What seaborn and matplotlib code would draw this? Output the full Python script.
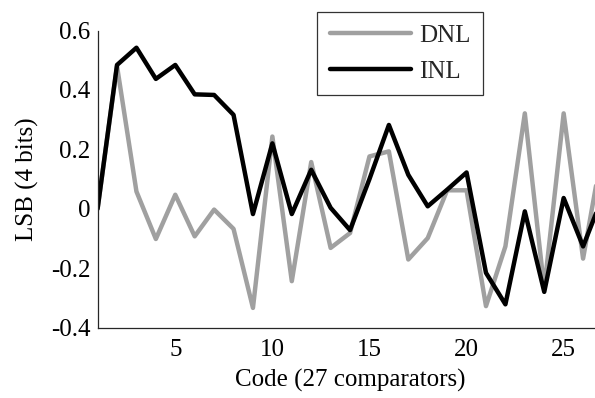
import numpy as np
import pandas as pd
import matplotlib
matplotlib.use("Agg")
import matplotlib.pyplot as plt
import seaborn as sns

codes = list(range(1, 28))
dnl = [0.0, 0.48, 0.058, -0.102, 0.047, -0.093, -0.003, -0.068, -0.334, 0.243,
       -0.244, 0.157, -0.132, -0.082, 0.176, 0.193, -0.171, -0.099, 0.062, 0.062,
       -0.328, -0.127, 0.321, -0.27, 0.321, -0.168, 0.2]
inl = [0.0, 0.484, 0.542, 0.437, 0.484, 0.385, 0.383, 0.316, -0.018, 0.22,
       -0.018, 0.131, 0.003, -0.072, 0.1, 0.282, 0.114, 0.008, 0.064, 0.122,
       -0.216, -0.322, -0.009, -0.28, 0.036, -0.127, 0.04]
series_names = ["DNL", "INL"]
x_ticks = [5, 10, 15, 20, 25]
y_ticks = [-0.4, -0.2, 0, 0.2, 0.4, 0.6]
y_tick_labels = ["-0.4", "-0.2", "0", "0.2", "0.4", "0.6"]

df = pd.DataFrame({
    "Code": codes * 2,
    "LSB": dnl + inl,
    "Series": [series_names[0]] * len(codes) + [series_names[1]] * len(codes),
})

sns.set_theme(style="white")
plt.rcParams["font.family"] = ["Liberation Serif", "DejaVu Serif"]

fig = plt.figure(figsize=(5.95, 3.98), dpi=100)
W, H = 595, 398
left_px, right_px, top_px, bot_px = 97.6, 602.5, 30.5, 327.5
ax = fig.add_axes([left_px / W, 1 - bot_px / H, (right_px - left_px) / W, (bot_px - top_px) / H])

sns.lineplot(data=df, x="Code", y="LSB", hue="Series",
             palette={"DNL": "#a0a0a0", "INL": "#000000"},
             linewidth=3.2, ax=ax, legend=True)

ax.set_xlim(1, 27)
ax.set_ylim(-0.4, 0.6)
ax.set_xticks(x_ticks)
ax.set_yticks(y_ticks)
ax.set_yticklabels(y_tick_labels)
ax.tick_params(direction="in", length=5, width=0.8, colors="#262626",
               labelsize=18, labelcolor="black")
ax.tick_params(axis="y", pad=5)
ax.tick_params(axis="x", pad=8)
for s in ["top", "right"]:
    ax.spines[s].set_visible(False)
for s in ["left", "bottom"]:
    ax.spines[s].set_color("#262626")
    ax.spines[s].set_linewidth(0.9)

ax.set_xlabel("Code (27 comparators)", fontsize=18, color="black", labelpad=6)
ax.set_ylabel("LSB (4 bits)", fontsize=18, color="black", labelpad=9)

handles, labels = ax.get_legend_handles_labels()
leg = ax.legend(handles, labels, loc="upper left",
                bbox_to_anchor=((317 - left_px) / (right_px - left_px), 1 + (top_px - 11.7) / (bot_px - top_px)),
                frameon=True, fancybox=False, fontsize=18, handlelength=3.25,
                borderpad=0.5, labelspacing=0.55, handletextpad=0.35, borderaxespad=0)
leg.get_frame().set_edgecolor("black")
leg.get_frame().set_linewidth(0.9)
for line in leg.get_lines():
    line.set_linewidth(3.2)

fig.savefig("out.png", dpi=100)
